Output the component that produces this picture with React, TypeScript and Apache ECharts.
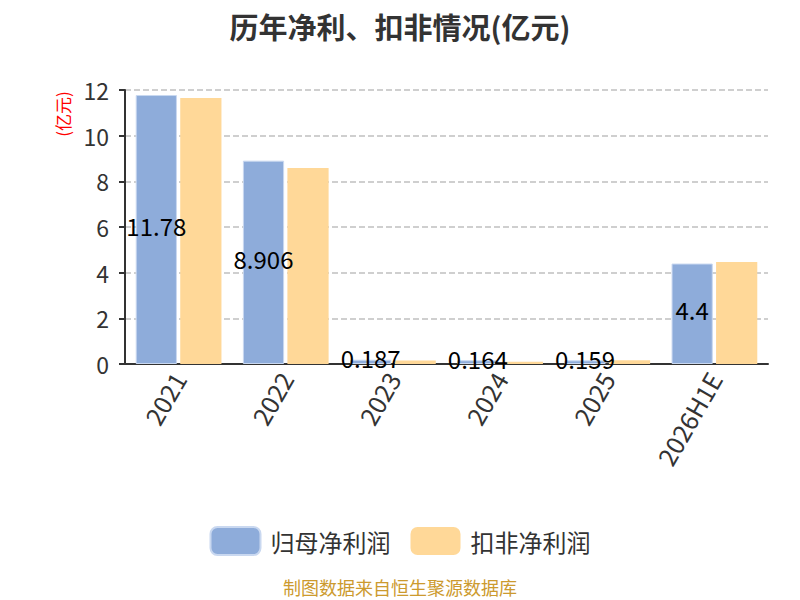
import React, { useEffect, useRef } from "react";
import * as echarts from "echarts";

const categories = ["2021", "2022", "2023", "2024", "2025", "2026H1E"];
const netProfit = [11.78, 8.906, 0.187, 0.164, 0.159, 4.4];
const deductedProfit = [11.65, 8.58, 0.15, 0.1, 0.16, 4.47];
const seriesNames = ["归母净利润", "扣非净利润"];

const FONT = "'Noto Sans CJK SC', 'Noto Sans', sans-serif";

export default function App() {
  const ref = useRef<HTMLDivElement>(null);
  useEffect(() => {
    if (!ref.current) return;
    const chart = echarts.init(ref.current, undefined, { renderer: "svg" });
    chart.setOption({
      animation: false,
      textStyle: { fontFamily: FONT },
      title: {
        text: "历年净利、扣非情况(亿元)",
        left: "center",
        top: 6,
        textStyle: { fontSize: 29, fontWeight: "bold", color: "#333", fontFamily: FONT },
      },
      graphic: [
        {
          type: "text",
          x: 62,
          y: 114,
          rotation: Math.PI / 2,
          style: {
            text: "(亿元)",
            fill: "#ff0000",
            fontSize: 17,
            fontFamily: FONT,
            textAlign: "center",
            textVerticalAlign: "middle",
          },
        },
        {
          type: "text",
          x: 400,
          y: 587,
          style: {
            text: "制图数据来自恒生聚源数据库",
            fill: "#cc9a2e",
            fontSize: 18,
            fontFamily: FONT,
            textAlign: "center",
            textVerticalAlign: "middle",
          },
        },
      ],
      legend: {
        data: seriesNames,
        top: 521,
        left: "center",
        itemWidth: 50,
        itemHeight: 28,
        itemGap: 20,
        textStyle: { fontSize: 24, color: "#333", fontFamily: FONT, padding: [0, 0, 0, 5] },
      },
      grid: { left: 125, right: 32, top: 90, bottom: 236, containLabel: false },
      xAxis: {
        type: "category",
        data: categories,
        axisLine: { lineStyle: { color: "#333", width: 2 } },
        axisTick: { lineStyle: { color: "#333", width: 2 }, length: 6 },
        axisLabel: { rotate: 60, fontSize: 25, color: "#333", fontFamily: FONT, margin: 10 },
      },
      yAxis: {
        type: "value",
        min: 0,
        max: 12,
        interval: 2,
        axisLine: { show: true, lineStyle: { color: "#333", width: 2 } },
        axisTick: { show: true, lineStyle: { color: "#333", width: 2 }, length: 6 },
        axisLabel: { fontSize: 23, color: "#333", fontFamily: FONT, margin: 16 },
        splitLine: { lineStyle: { type: "dashed", color: "#c0c0c0", width: 1.5 } },
      },
      series: [
        {
          name: seriesNames[0],
          type: "bar",
          data: netProfit,
          barGap: "8%",
          barCategoryGap: "20%",
          itemStyle: { color: "#8eacda", borderColor: "#c9d8f0", borderWidth: 1 },
          label: {
            show: true,
            position: "inside",
            offset: [0, -4],
            color: "#000",
            fontSize: 24,
            fontFamily: FONT,
          },
        },
        {
          name: seriesNames[1],
          type: "bar",
          data: deductedProfit,
          itemStyle: { color: "#ffd898" },
        },
      ],
    });
    return () => chart.dispose();
  }, []);
  return (
    <div
      ref={ref}
      style={{ position: "absolute", left: 0, top: 0, width: 800, height: 600 }}
    />
  );
}
